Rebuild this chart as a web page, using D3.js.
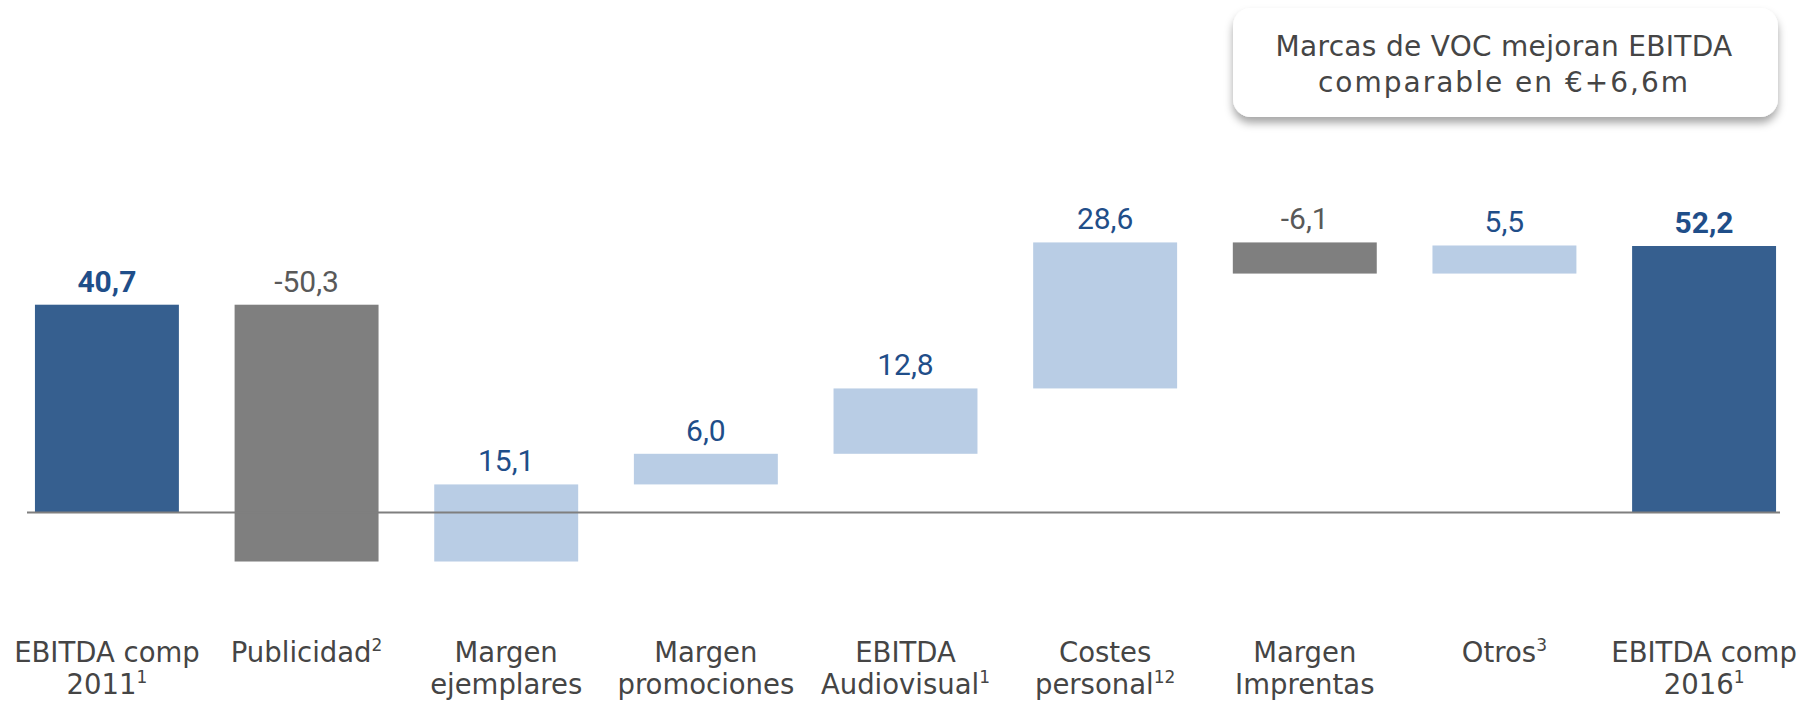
<!DOCTYPE html>
<html>
<head>
<meta charset="utf-8">
<script src="https://cdn.jsdelivr.net/npm/d3@7"></script>
<style>
  html, body { margin: 0; padding: 0; background: #ffffff; }
  svg { display: block; }
</style>
</head>
<body>
<script>
// Chart size
const width = 1802;
const height = 702;

// Data
const categories = ["EBITDA comp 2011", "Publicidad", "Margen ejemplares", "Margen promociones",
    "EBITDA Audiovisual", "Costes personal", "Margen Imprentas", "Otros", "EBITDA comp 2016"];
const labelLines = [["EBITDA comp", "2011"], ["Publicidad"], ["Margen", "ejemplares"], ["Margen", "promociones"],
    ["EBITDA", "Audiovisual"], ["Costes", "personal"], ["Margen", "Imprentas"], ["Otros"], ["EBITDA comp", "2016"]];
const footnotes = ["1", "2", "", "", "1", "12", "", "3", "1"];
const values = [40.7, -50.3, 15.1, 6.0, 12.8, 28.6, -6.1, 5.5, 52.2];
const isTotal = [true, false, false, false, false, false, false, false, true];
const boxLines = ["Marcas de VOC mejoran EBITDA", "comparable en €+6,6m"];

// Colours
const colTotal = '#365f8f';
const colUp = '#b9cde5';
const colDown = '#7f7f7f';
const colBlueText = '#1f4e89';
const colGreyText = '#595959';
const colLabel = '#454545';

// Build waterfall start/end from the values
let running = 0;
const bars = categories.map((c, i) => {
    let start, end;
    if (isTotal[i]) {
        start = 0; end = values[i]; running = values[i];
    } else {
        start = running; end = running + values[i]; running = end;
    }
    return { cat: c, value: values[i], start, end, total: isTotal[i], i };
});

const svg = d3.select('body')
    .append('svg')
    .attr('width', width)
    .attr('height', height);

// Scales
const xScale = d3.scaleBand()
    .domain(categories)
    .range([7, 1804])
    .paddingInner(0.279)
    .paddingOuter(0.14);

const yScale = d3.scaleLinear()
    .domain([0, 52.2])
    .range([512.5, 246]);

// Spanish style numbers: comma decimal, plain hyphen for minus
const fmt = d3.formatLocale({ decimal: ',', thousands: '.', grouping: [3], currency: ['', '€'], minus: '-' }).format('.1f');

// Bars
svg.selectAll('rect.bar')
    .data(bars)
    .enter()
    .append('rect')
    .attr('class', 'bar')
    .attr('x', d => xScale(d.cat))
    .attr('width', xScale.bandwidth())
    .attr('y', d => yScale(Math.max(d.start, d.end)))
    .attr('height', d => Math.abs(yScale(d.start) - yScale(d.end)))
    .attr('fill', d => d.total ? colTotal : (d.value < 0 ? colDown : colUp));

// Zero line on top of the bars
svg.append('line')
    .attr('x1', 27)
    .attr('x2', 1780)
    .attr('y1', yScale(0))
    .attr('y2', yScale(0))
    .attr('stroke', '#7f7f7f')
    .attr('stroke-width', 2);

// Value labels above each bar
svg.selectAll('text.value')
    .data(bars)
    .enter()
    .append('text')
    .attr('class', 'value')
    .attr('x', d => xScale(d.cat) + xScale.bandwidth() / 2)
    .attr('y', d => yScale(Math.max(d.start, d.end)) - 13)
    .attr('text-anchor', 'middle')
    .attr('font-family', 'Roboto, sans-serif')
    .attr('font-size', 30)
    .attr('font-weight', d => d.total ? 'bold' : 'normal')
    .attr('fill', d => d.value < 0 ? colGreyText : colBlueText)
    .text(d => fmt(d.value));

// Category labels (two lines, footnote on the last line)
const catLabels = svg.selectAll('text.cat')
    .data(bars)
    .enter()
    .append('text')
    .attr('class', 'cat')
    .attr('text-anchor', 'middle')
    .attr('font-family', '"DejaVu Sans", sans-serif')
    .attr('font-size', 27.5)
    .attr('fill', colLabel);

catLabels.each(function (d) {
    const lines = labelLines[d.i];
    const cx = xScale(d.cat) + xScale.bandwidth() / 2;
    lines.forEach((line, k) => {
        d3.select(this).append('tspan')
            .attr('x', cx)
            .attr('y', 662 + k * 32)
            .text(line);
        if (k === lines.length - 1 && footnotes[d.i]) {
            d3.select(this).append('tspan')
                .attr('font-size', 17)
                .attr('dy', -11)
                .text(footnotes[d.i]);
        }
    });
});

// Callout box top right
const defs = svg.append('defs');
const shadow = defs.append('filter')
    .attr('id', 'shadow')
    .attr('x', '-10%').attr('y', '-20%')
    .attr('width', '120%').attr('height', '150%');
shadow.append('feDropShadow')
    .attr('dx', 0)
    .attr('dy', 6)
    .attr('stdDeviation', 4)
    .attr('flood-color', '#000')
    .attr('flood-opacity', 0.35);

svg.append('rect')
    .attr('x', 1233)
    .attr('y', 8)
    .attr('width', 545)
    .attr('height', 109)
    .attr('rx', 18)
    .attr('fill', '#ffffff')
    .attr('filter', 'url(#shadow)');

svg.append('text')
    .attr('text-anchor', 'middle')
    .attr('font-family', '"DejaVu Sans", sans-serif')
    .attr('font-size', 28)
    .attr('fill', colLabel)
    .selectAll('tspan')
    .data(boxLines)
    .enter()
    .append('tspan')
    .attr('x', 1504)
    .attr('y', (d, i) => 56 + i * 36)
    .attr('letter-spacing', (d, i) => i === 1 ? 2 : 0.3)
    .text(d => d);
</script>
</body>
</html>
